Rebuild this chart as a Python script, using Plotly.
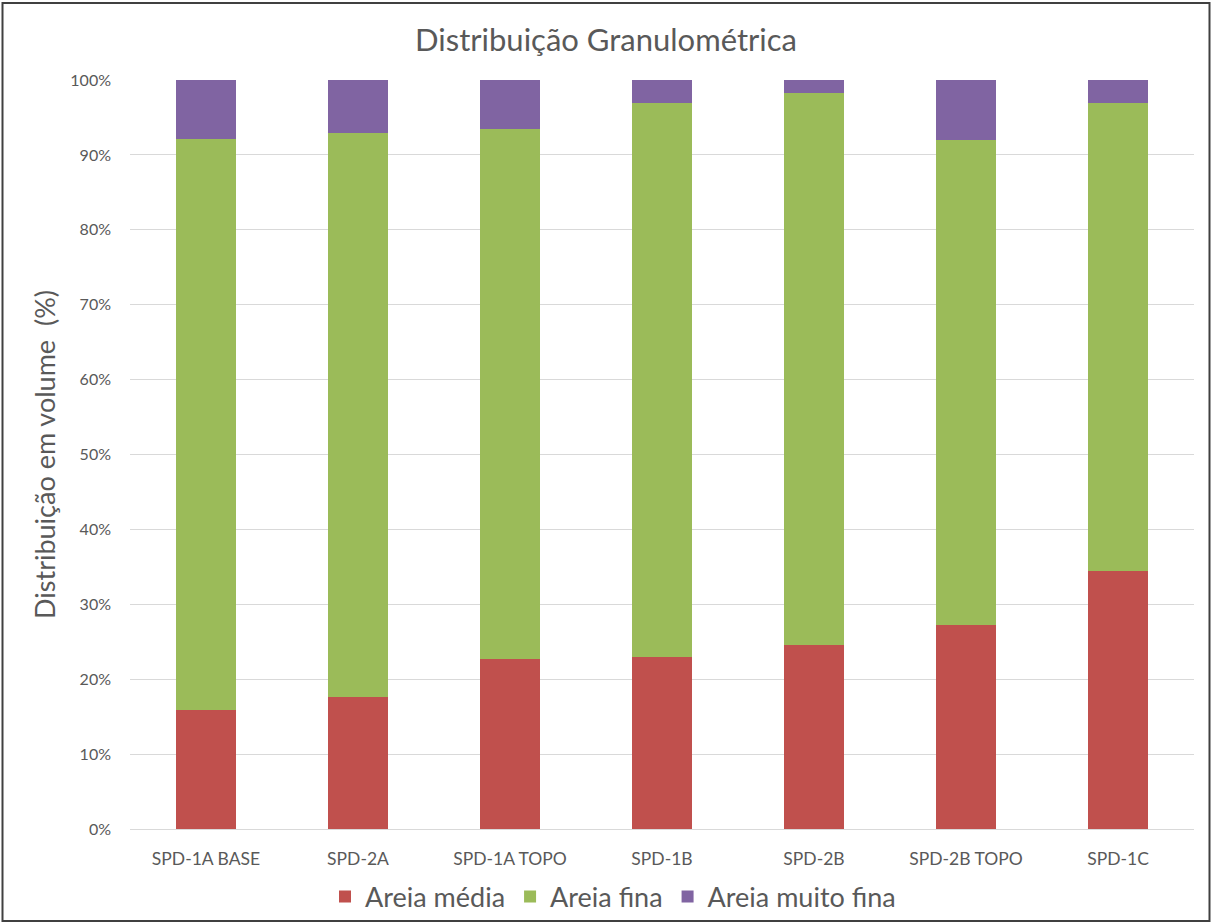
import plotly.graph_objects as go

# Amostras e frações granulométricas (% em volume)
amostras = ["SPD-1A BASE", "SPD-2A", "SPD-1A TOPO", "SPD-1B", "SPD-2B", "SPD-2B TOPO", "SPD-1C"]
areia_media = [15.9, 17.6, 22.7, 23.0, 24.6, 27.2, 34.5]
areia_fina = [76.2, 75.3, 70.7, 73.9, 73.6, 64.8, 62.4]
areia_muito_fina = [7.9, 7.1, 6.6, 3.1, 1.8, 8.0, 3.1]

y_ticks = [0, 10, 20, 30, 40, 50, 60, 70, 80, 90, 100]
y_tick_labels = [f"{v}%" for v in y_ticks]

W, H = 1212, 924
ML, MR, MT, MB = 130, 18, 79.5, 94.5
PW, PH = W - ML - MR, H - MT - MB

series = [
    ("Areia média", areia_media, "#C0504D"),
    ("Areia fina", areia_fina, "#9BBB59"),
    ("Areia muito fina", areia_muito_fina, "#8064A2"),
]

fig = go.Figure()
for nome, vals, cor in series:
    fig.add_trace(go.Bar(
        x=amostras, y=vals, name=nome,
        marker=dict(color=cor, line=dict(width=0)),
    ))

font_family = "Lato, sans-serif"

# conversão de pixels para frações da área de plotagem
def px_x(p):
    return (p - ML) / PW

def px_y(p):
    return (H - MB - p) / PH

fig.update_layout(
    width=W, height=H,
    barmode="stack", bargap=0.6,
    plot_bgcolor="white", paper_bgcolor="white",
    margin=dict(l=ML, r=MR, t=MT, b=MB, autoexpand=False),
    font=dict(family=font_family, color="#595959"),
    title=dict(
        text="Distribuição Granulométrica",
        x=0.5, xref="container", xanchor="center",
        y=1 - 40 / H, yref="container", yanchor="middle",
        font=dict(size=31, color="#595959", family=font_family),
    ),
    xaxis=dict(
        showgrid=False, showline=True, linecolor="#d9d9d9", linewidth=1,
        ticks="", tickfont=dict(size=17.5, color="#595959"),
        ticklabelstandoff=14,
    ),
    yaxis=dict(
        range=[0, 100], tickvals=y_ticks, ticktext=y_tick_labels,
        showgrid=True, gridcolor="#d9d9d9", gridwidth=1,
        zeroline=False, showline=False, ticks="",
        tickfont=dict(size=16, color="#595959"),
        ticklabelstandoff=18,
        title=dict(text="Distribuição em volume  (%)",
                   font=dict(size=27, color="#595959"), standoff=6),
    ),
    legend=dict(
        orientation="h", x=613 / W, xref="container", xanchor="center",
        y=1 - 897 / H, yref="container", yanchor="middle",
        bgcolor="rgba(0,0,0,0)",
        font=dict(size=27, color="#595959"),
        traceorder="normal", itemwidth=30,
    ),
    shapes=[dict(
        type="rect", xref="paper", yref="paper",
        x0=px_x(2.5), x1=px_x(1209.5), y0=px_y(921.5), y1=px_y(2.5),
        line=dict(color="#404040", width=2), fillcolor="rgba(0,0,0,0)",
        layer="above",
    )],
)

fig.write_html("out.html")
